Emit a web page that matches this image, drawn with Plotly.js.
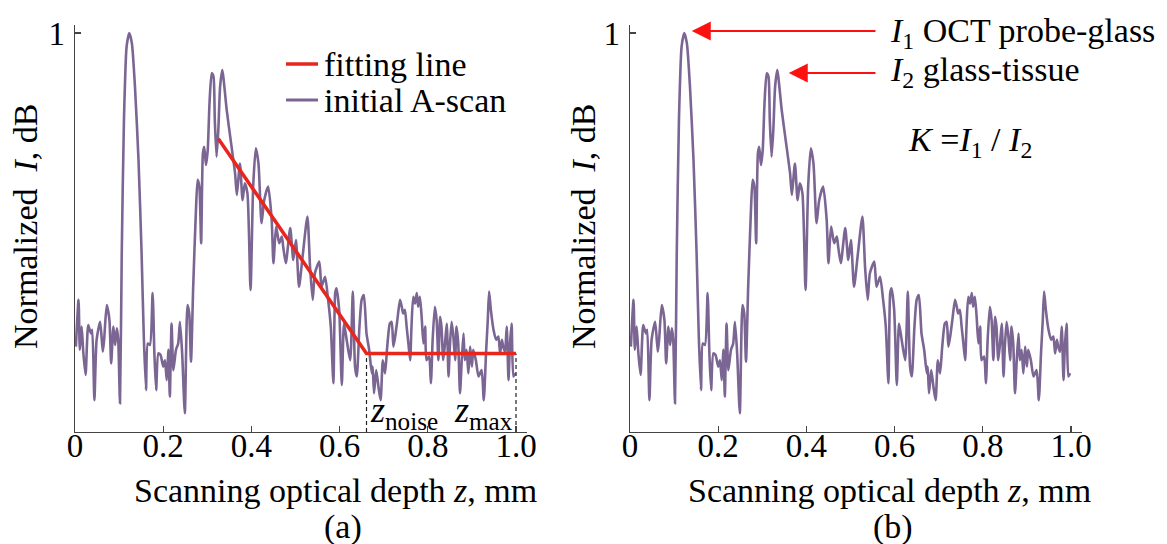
<!DOCTYPE html>
<html>
<head>
<meta charset="utf-8">
<script src="https://cdn.plot.ly/plotly-3.0.1.min.js"></script>
<style>html,body{margin:0;padding:0;background:#fff;}#chart{width:1167px;height:544px;}</style>
</head>
<body>
<div id="chart"></div>
<script>
// Scanning optical depth z (mm) of the A-scan samples
const depthZ = [0.002,0.008,0.011,0.015,0.019,0.024,0.030,0.036,0.039,0.044,0.049,0.057,0.063,0.066,0.072,0.078,0.082,0.087,0.091,0.095,0.098,0.102,0.106,0.111,0.117,0.123,0.129,0.136,0.144,0.151,0.156,0.161,0.165,0.170,0.176,0.180,0.184,0.189,0.194,0.200,0.204,0.208,0.212,0.215,0.219,0.223,0.229,0.234,0.238,0.243,0.249,0.255,0.259,0.263,0.268,0.274,0.278,0.282,0.286,0.290,0.293,0.297,0.301,0.305,0.310,0.314,0.317,0.321,0.325,0.329,0.334,0.344,0.355,0.363,0.367,0.374,0.380,0.385,0.391,0.398,0.404,0.410,0.416,0.423,0.429,0.438,0.446,0.450,0.456,0.463,0.469,0.472,0.478,0.488,0.495,0.501,0.508,0.516,0.527,0.533,0.539,0.544,0.554,0.559,0.567,0.574,0.580,0.586,0.590,0.593,0.599,0.605,0.610,0.616,0.624,0.630,0.635,0.639,0.645,0.650,0.655,0.661,0.667,0.673,0.675,0.678,0.683,0.688,0.693,0.698,0.703,0.708,0.714,0.718,0.722,0.726,0.731,0.737,0.741,0.744,0.748,0.752,0.756,0.760,0.763,0.767,0.771,0.775,0.778,0.782,0.786,0.790,0.794,0.797,0.803,0.807,0.811,0.816,0.820,0.824,0.828,0.831,0.835,0.839,0.843,0.847,0.850,0.854,0.858,0.862,0.865,0.869,0.873,0.877,0.881,0.884,0.888,0.892,0.896,0.900,0.903,0.909,0.915,0.922,0.927,0.932,0.936,0.939,0.943,0.949,0.955,0.960,0.964,0.968,0.971,0.975,0.979,0.983,0.986,0.990,0.994,0.998];
// Normalized intensity of the initial A-scan
const intensity = [0.214,0.331,0.206,0.264,0.197,0.143,0.268,0.247,0.256,0.080,0.231,0.276,0.201,0.231,0.318,0.281,0.172,0.264,0.218,0.260,0.231,0.072,0.448,0.782,0.966,1.000,0.974,0.865,0.682,0.448,0.239,0.105,0.222,0.218,0.348,0.197,0.105,0.197,0.193,0.164,0.180,0.130,0.206,0.089,0.272,0.155,0.206,0.222,0.276,0.197,0.047,0.318,0.297,0.176,0.364,0.548,0.632,0.615,0.473,0.698,0.715,0.669,0.707,0.824,0.899,0.891,0.782,0.690,0.757,0.865,0.907,0.807,0.715,0.648,0.594,0.673,0.581,0.623,0.598,0.356,0.615,0.711,0.673,0.523,0.581,0.615,0.531,0.423,0.515,0.473,0.490,0.465,0.423,0.511,0.431,0.481,0.364,0.439,0.540,0.414,0.331,0.398,0.427,0.364,0.389,0.331,0.264,0.122,0.348,0.360,0.306,0.118,0.272,0.231,0.180,0.352,0.164,0.139,0.264,0.331,0.343,0.247,0.206,0.147,0.164,0.097,0.155,0.114,0.080,0.180,0.147,0.214,0.272,0.276,0.214,0.239,0.281,0.331,0.314,0.297,0.306,0.264,0.222,0.180,0.264,0.339,0.322,0.348,0.314,0.339,0.289,0.222,0.264,0.180,0.189,0.122,0.231,0.314,0.281,0.180,0.289,0.264,0.180,0.222,0.272,0.139,0.214,0.276,0.239,0.180,0.264,0.222,0.097,0.180,0.247,0.180,0.206,0.147,0.214,0.164,0.206,0.180,0.139,0.155,0.080,0.197,0.281,0.352,0.306,0.256,0.231,0.239,0.197,0.231,0.214,0.201,0.264,0.130,0.214,0.272,0.139,0.147];
// Fitting line (slope part then noise floor)
const fitZ = [0.325, 0.661, 1.0];
const fitI = [0.735, 0.197, 0.197];
// Noise / max depth markers
const zNoise = 0.661, zMax = 1.0, noiseLevel = 0.197;
// Peaks I1 and I2
const peakI1 = {z: 0.14, v: 1.005};
const peakI2 = {z: 0.36, v: 0.90};
// Tick labels
const xTickVals = [0, 0.2, 0.4, 0.6, 0.8, 1.0];
const xTickText = ['0', '0.2', '0.4', '0.6', '0.8', '1.0'];
const yTickVals = [1];
const yTickText = ['1'];
// Legend entries
const legendNames = ['fitting line', 'initial A-scan'];

const FONT = '"Liberation Serif", "Times New Roman", Times, serif';
const PURPLE = '#7b6593';
const RED = '#e8261e';
const W = 1167, H = 544;
const px = X => X / W;
const py = Y => 1 - Y / H;

const traces = [
  {x: depthZ, y: intensity, type: 'scatter', mode: 'lines', name: legendNames[1], showlegend: false,
   line: {color: PURPLE, width: 2.6, shape: 'spline', smoothing: 0.6}, xaxis: 'x', yaxis: 'y'},
  {x: [zNoise, zNoise, null, zMax, zMax], y: [0, noiseLevel, null, 0, noiseLevel], type: 'scatter', mode: 'lines',
   showlegend: false, line: {color: '#222', width: 1.2, dash: '4px,3px'}, xaxis: 'x', yaxis: 'y', connectgaps: false},
  {x: fitZ, y: fitI, type: 'scatter', mode: 'lines', name: legendNames[0], showlegend: false,
   line: {color: RED, width: 3.5}, xaxis: 'x', yaxis: 'y'},
  {x: depthZ, y: intensity, type: 'scatter', mode: 'lines', showlegend: false,
   line: {color: PURPLE, width: 2.6, shape: 'spline', smoothing: 0.6}, xaxis: 'x2', yaxis: 'y2'}
];

const xr = [0, 1.025];
const yr = [0, 1.02];
const xDomL = [px(75), px(75 + 441 * 1.025)];
const xDomR = [px(630), px(630 + 441 * 1.025)];
const yDom = [py(432), py(25)];

function xAxis(dom, anchor) {
  return {domain: dom, range: xr, anchor: anchor, showgrid: false, zeroline: false,
    showline: true, linecolor: '#444', linewidth: 1.3, ticks: 'inside', ticklen: 6, tickwidth: 1.2, tickcolor: '#444',
    ticklabelstandoff: -16,
    tickvals: xTickVals, ticktext: xTickText, tickfont: {family: FONT, size: 33, color: '#000'}, fixedrange: true};
}
function yAxis(anchor) {
  return {domain: yDom, range: yr, anchor: anchor, showgrid: false, zeroline: false,
    showline: true, linecolor: '#444', linewidth: 1.3, ticks: 'inside', ticklen: 6, tickwidth: 1.2, tickcolor: '#444',
    ticklabelstandoff: 2,
    tickvals: yTickVals, ticktext: yTickText, tickfont: {family: FONT, size: 33, color: '#000'}, fixedrange: true};
}

const tf = {family: FONT, size: 34, color: '#000'};
const annotations = [
  {xref: 'paper', yref: 'paper', x: px(25), y: py(226), text: 'Normalized\u00a0 <i>I</i>, dB', textangle: -90, showarrow: false, font: tf, xanchor: 'center', yanchor: 'middle'},
  {xref: 'paper', yref: 'paper', x: px(583), y: py(226), text: 'Normalized\u00a0 <i>I</i>, dB', textangle: -90, showarrow: false, font: tf, xanchor: 'center', yanchor: 'middle'},
  {xref: 'paper', yref: 'paper', x: px(335), y: py(490), text: 'Scanning optical depth <i>z</i>, mm', showarrow: false, font: tf, xanchor: 'center', yanchor: 'middle', borderpad: 0},
  {xref: 'paper', yref: 'paper', x: px(890), y: py(490), text: 'Scanning optical depth <i>z</i>, mm', showarrow: false, font: tf, xanchor: 'center', yanchor: 'middle', borderpad: 0},
  {xref: 'paper', yref: 'paper', x: px(343), y: py(527), text: '(a)', showarrow: false, font: tf, xanchor: 'center', yanchor: 'middle', borderpad: 0},
  {xref: 'paper', yref: 'paper', x: px(893), y: py(527), text: '(b)', showarrow: false, font: tf, xanchor: 'center', yanchor: 'middle', borderpad: 0},
  {xref: 'x', yref: 'y', x: zNoise + 0.003, y: 0.05, text: '<i>z</i><sub>noise</sub>', showarrow: false, font: {family: FONT, size: 36, color: '#000'}, xanchor: 'left', yanchor: 'middle'},
  {xref: 'x', yref: 'y', x: zMax - 0.003, y: 0.05, text: '<i>z</i><sub>max</sub>', showarrow: false, font: {family: FONT, size: 36, color: '#000'}, xanchor: 'right', yanchor: 'middle'},
  // legend texts
  {xref: 'paper', yref: 'paper', x: px(323), y: py(64), text: legendNames[0], showarrow: false, font: tf, xanchor: 'left', yanchor: 'middle', borderpad: 0},
  {xref: 'paper', yref: 'paper', x: px(323), y: py(100), text: legendNames[1], showarrow: false, font: tf, xanchor: 'left', yanchor: 'middle', borderpad: 0},
  // arrows
  {xref: 'x2', yref: 'y2', x: peakI1.z, y: peakI1.v, axref: 'x2', ayref: 'y2', ax: 0.56, ay: peakI1.v, text: '', showarrow: true,
   arrowhead: 2, arrowsize: 1.9, arrowwidth: 2, arrowcolor: '#ff1010', standoff: 0},
  {xref: 'x2', yref: 'y2', x: peakI2.z, y: peakI2.v, axref: 'x2', ayref: 'y2', ax: 0.56, ay: peakI2.v, text: '', showarrow: true,
   arrowhead: 2, arrowsize: 1.9, arrowwidth: 2, arrowcolor: '#ff1010', standoff: 0},
  {xref: 'paper', yref: 'paper', x: px(888), y: py(33), text: '<i>I</i><sub>1</sub> OCT probe-glass', showarrow: false, font: tf, xanchor: 'left', yanchor: 'middle'},
  {xref: 'paper', yref: 'paper', x: px(888), y: py(72), text: '<i>I</i><sub>2</sub> glass-tissue', showarrow: false, font: tf, xanchor: 'left', yanchor: 'middle'},
  {xref: 'paper', yref: 'paper', x: px(906), y: py(142), text: '<i>K</i> =<i>I</i><sub>1</sub> / <i>I</i><sub>2</sub>', showarrow: false, font: tf, xanchor: 'left', yanchor: 'middle'}
];

const shapes = [
  {type: 'line', xref: 'paper', yref: 'paper', x0: px(286), x1: px(318), y0: py(64), y1: py(64), line: {color: RED, width: 3.5}},
  {type: 'line', xref: 'paper', yref: 'paper', x0: px(286), x1: px(318), y0: py(100), y1: py(100), line: {color: PURPLE, width: 3}}
];

const layout = {
  width: W, height: H, margin: {l: 0, r: 0, t: 0, b: 0},
  paper_bgcolor: '#fff', plot_bgcolor: '#fff',
  font: {family: FONT, color: '#000'},
  xaxis: xAxis(xDomL, 'y'), yaxis: yAxis('x'),
  xaxis2: xAxis(xDomR, 'y2'), yaxis2: yAxis('x2'),
  showlegend: false,
  annotations: annotations,
  shapes: shapes
};

Plotly.newPlot('chart', traces, layout, {staticPlot: true, displayModeBar: false});
</script>
</body>
</html>
